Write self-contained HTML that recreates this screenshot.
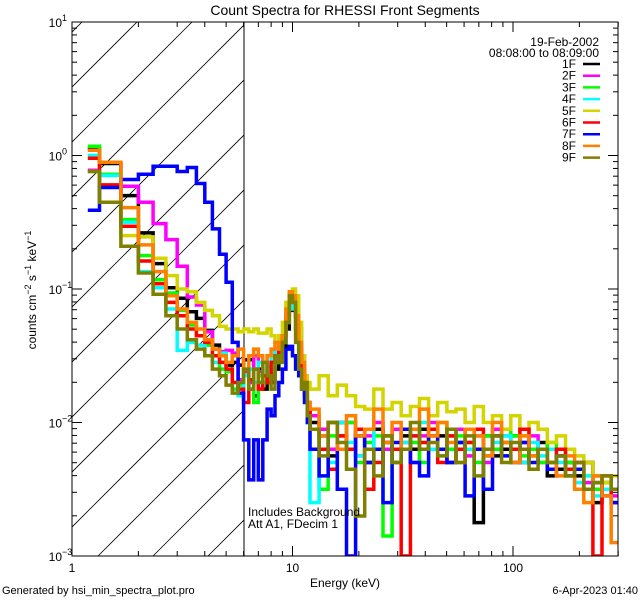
<!DOCTYPE html>
<html><head><meta charset="utf-8"><style>
body{margin:0;background:#fff;}
svg{display:block;font-family:"Liberation Sans",sans-serif;}
</style></head><body>
<svg id="chart" width="640" height="600" viewBox="0 0 640 600">
<rect width="640" height="600" fill="#fff"/>
<defs><clipPath id="pc"><rect x="72" y="22" width="546" height="534"/></clipPath>
<clipPath id="hc"><rect x="72" y="22" width="172" height="534"/></clipPath></defs>
<text x="345" y="15" text-anchor="middle" font-size="14">Count Spectra for RHESSI Front Segments</text>
<g id="hatch" clip-path="url(#hc)"></g>
<line x1="244" y1="22" x2="244" y2="556" stroke="#000" stroke-width="1"/>
<g id="series" clip-path="url(#pc)"></g>
<rect x="72" y="22" width="546" height="534" fill="none" stroke="#000" stroke-width="1"/>
<g id="axes"></g>
<text x="345" y="587" text-anchor="middle" font-size="12">Energy (keV)</text>
<text transform="translate(36,290) rotate(-90)" text-anchor="middle" font-size="12">counts cm<tspan dy="-5" font-size="9">−2</tspan><tspan dy="5"> s</tspan><tspan dy="-5" font-size="9">−1</tspan><tspan dy="5"> keV</tspan><tspan dy="-5" font-size="9">−1</tspan></text>
<text x="2" y="594" font-size="11">Generated by hsi_min_spectra_plot.pro</text>
<text x="638" y="594" text-anchor="end" font-size="11">6-Apr-2023 01:40</text>
<text x="248" y="516" font-size="12">Includes Background</text>
<text x="248" y="528" font-size="12">Att A1, FDecim 1</text>
<text x="599" y="46" text-anchor="end" font-size="12">19-Feb-2002</text>
<text x="599" y="57" text-anchor="end" font-size="12">08:08:00 to 08:09:00</text>
<g id="legend"></g>
</svg>
<script>
const seriesNames=["1F","2F","3F","4F","5F","6F","7F","8F","9F"];
const seriesColors=["#000000","#ff00ff","#00ff00","#00ffff","#d4d400","#ff0000","#0000ff","#ff8000","#808000"];
const s1F=[0.05,-0.06,-0.30,-0.58,-0.81,-0.99,-1.07,-1.17,-1.22,-1.31,-1.42,-1.50,-1.57,-1.55,-1.57,
-1.53,-1.53,-1.8,-1.6,-1.75,-1.65,-1.7,-1.6,-1.5,-1.45,-1.3,-1.16,-1.12,-1.2,-1.35,-1.55,-1.75,-1.9,
-2.0,-2.1,-2.25,-2.0,-2.2,-2.1,-2.3,-2.05,-2.15,-2.3,-2.1,-2.2,-2.05,-2.2,-2.1,-2.3,-2.15,-2.2,-2.75,-2.1,-2.25,-2.2,-2.1,-2.3,-2.2,-2.15,-2.4,-2.35,-2.3,-2.4,-2.3,-2.6,-2.45,-2.5];
const s2F=[-0.11,-0.23,-0.23,-0.35,-0.51,-0.63,-0.83,-1.06,-1.12,-1.32,-1.45,-1.47,-1.46,-1.48,-1.68,
-1.62,-1.7,-1.5,-1.62,-1.55,-1.7,-1.6,-1.45,-1.4,-1.35,-1.2,-1.08,-1.05,-1.15,-1.3,-1.5,-1.7,-1.85,
-1.95,-2.05,-2.2,-2.1,-2.0,-2.25,-2.1,-2.0,-2.2,-2.05,-2.15,-2.3,-2.1,-2.0,-2.2,-2.1,-2.05,-2.25,-2.1,-2.3,-2.05,-2.1,-2.2,-2.15,-2.1,-2.3,-2.2,-2.25,-2.35,-2.3,-2.45,-2.4,-2.5,-2.55];
const s3F=[0.07,-0.14,-0.48,-0.75,-0.93,-1.03,-1.16,-1.27,-1.35,-1.42,-1.5,-1.6,-1.62,-1.75,-1.72,
-1.6,-1.75,-1.85,-1.65,-1.7,-1.58,-1.62,-1.55,-1.5,-1.4,-1.25,-1.1,-1.05,-1.2,-1.4,-1.6,-1.8,-1.95,
-2.05,-2.5,-2.1,-2.2,-2.0,-2.3,-2.15,-2.1,-2.85,-2.2,-2.05,-2.15,-2.3,-2.1,-2.0,-2.2,-2.1,-2.15,-2.3,-2.1,-2.2,-2.05,-2.1,-2.25,-2.2,-2.3,-2.15,-2.2,-2.3,-2.35,-2.4,-2.5,-2.45,-2.6];
const s4F=[0.0,-0.15,-0.5,-0.87,-0.99,-1.15,-1.46,-1.4,-1.42,-1.5,-1.55,-1.48,-1.6,-1.7,-1.8,
-1.65,-1.6,-1.7,-1.55,-1.65,-1.6,-1.5,-1.45,-1.55,-1.4,-1.25,-1.15,-1.1,-1.15,-1.3,-1.55,-1.8,-2.0,
-2.6,-2.1,-2.3,-2.0,-2.15,-2.25,-2.05,-2.2,-2.1,-2.3,-2.15,-2.1,-2.0,-2.2,-2.25,-2.1,-2.15,-2.2,-2.1,-2.25,-2.15,-2.1,-2.2,-2.3,-2.15,-2.25,-2.2,-2.3,-2.35,-2.45,-2.4,-2.55,-2.5,-2.6];
const s5F=[-0.12,-0.35,-0.6,-0.61,-0.77,-0.9,-1.0,-1.02,-1.1,-1.16,-1.2,-1.28,-1.3,-1.3,-1.32,
-1.3,-1.32,-1.3,-1.33,-1.33,-1.3,-1.35,-1.4,-1.35,-1.25,-1.1,-1.02,-1.0,-1.05,-1.25,-1.5,-1.65,-1.7,
-1.75,-1.65,-1.8,-1.72,-1.8,-1.88,-1.9,-1.75,-1.9,-1.85,-1.95,-1.88,-1.82,-1.95,-1.85,-1.92,-1.9,-2.0,-1.88,-2.0,-1.95,-2.05,-1.95,-2.1,-2.0,-2.05,-2.15,-2.1,-2.2,-2.25,-2.3,-2.4,-2.45,-2.4];
const s6F=[-0.02,-0.22,-0.53,-0.79,-0.96,-1.1,-1.2,-1.3,-1.35,-1.4,-1.5,-1.55,-1.6,-1.7,-1.75,
-1.85,-1.68,-1.6,-1.75,-1.65,-1.7,-1.55,-1.5,-1.45,-1.35,-1.2,-1.07,-1.1,-1.3,-1.45,-1.6,-1.8,-1.9,
-2.05,-2.2,-2.35,-2.1,-2.2,-2.05,-2.5,-2.3,-2.1,-2.2,-3.0,-2.1,-2.15,-2.05,-2.3,-2.1,-2.2,-2.15,-2.05,-2.25,-2.1,-2.15,-2.2,-2.05,-2.25,-2.2,-2.3,-2.2,-2.35,-2.3,-2.5,-3.0,-2.4,-2.6];
const s7F=[-0.41,-0.24,-0.18,-0.14,-0.08,-0.08,-0.12,-0.09,-0.21,-0.35,-0.55,-0.74,-0.95,-1.4,-1.78,
-2.13,-2.43,-2.13,-2.43,-2.13,-1.9,-1.95,-1.8,-1.7,-1.6,-1.45,-1.43,-1.5,-1.6,-1.65,-1.75,-1.85,-2.0,
-2.2,-2.4,-2.0,-2.5,-3.0,-2.1,-2.3,-2.2,-2.6,-2.15,-2.05,-2.3,-2.4,-2.1,-2.2,-2.3,-2.15,-2.55,-2.2,-2.5,-2.1,-2.25,-2.3,-2.15,-2.3,-2.2,-2.35,-2.25,-2.4,-2.35,-2.5,-2.45,-2.55,-2.6];
const s8F=[0.04,-0.05,-0.39,-0.67,-0.87,-1.05,-1.15,-1.25,-1.3,-1.38,-1.45,-1.5,-1.55,-1.5,-1.45,
-1.6,-1.5,-1.45,-1.5,-1.55,-1.5,-1.45,-1.4,-1.45,-1.35,-1.15,-1.02,-1.05,-1.2,-1.4,-1.55,-1.7,-1.85,
-1.9,-2.1,-2.0,-2.2,-1.95,-2.1,-2.05,-1.9,-2.15,-2.0,-2.2,-2.05,-1.9,-2.1,-2.0,-2.15,-2.3,-2.05,-2.1,-2.25,-2.0,-2.15,-2.3,-2.1,-2.25,-2.2,-2.3,-2.4,-2.25,-2.5,-2.6,-2.4,-2.55,-2.9];
const s9F=[-0.12,-0.35,-0.68,-0.88,-1.04,-1.2,-1.3,-1.38,-1.45,-1.5,-1.6,-1.65,-1.72,-1.78,-1.7,
-1.6,-1.75,-1.6,-1.7,-1.55,-1.65,-1.75,-1.5,-1.55,-1.4,-1.25,-1.05,-1.1,-1.4,-1.6,-1.75,-1.7,-1.95,
-2.05,-2.25,-2.0,-2.15,-2.35,-2.7,-2.2,-2.4,-2.1,-2.3,-2.2,-2.0,-2.2,-2.15,-2.25,-2.05,-2.3,-2.1,-2.4,-2.2,-2.1,-2.3,-2.15,-2.2,-2.35,-2.2,-2.3,-2.25,-2.4,-2.3,-2.5,-2.45,-2.4,-2.5];
const seriesLogValues=[s1F,s2F,s3F,s4F,s5F,s6F,s7F,s8F,s9F];
const xTickLabels=["1","10","100"];
const yTickExps=["1","0","−1","−2","−3"];

const NS="http://www.w3.org/2000/svg";
const X0=72,X1=618,Y0=22,Y1=556,XDEC=220.5,LOGMIN=0,LOGMAX_Y=1,YDEC=133.5;
function xs(e){return X0+Math.log10(e)*XDEC;}
function ys(l){return Y0+(LOGMAX_Y-l)*YDEC;}
function mk(tag,attrs,parent){const el=document.createElementNS(NS,tag);for(const k in attrs)el.setAttribute(k,attrs[k]);parent.appendChild(el);return el;}
// energy bin edges
const edges=[1.18];
for(let k=4;k<=36;k++)edges.push(k/3);
for(let n=1;n<=34;n++)edges.push(12*Math.pow(1.1,n));

// hatch
const hatch=document.getElementById('hatch');
for(let c=159-55*3;c<244+556+60;c+=55){
  const ln=mk('line',{x1:c-Y1,y1:Y1,x2:c-Y0,y2:Y0,stroke:'#000','stroke-width':0.8},hatch);
  
  
}
// series
const sg=document.getElementById('series');
seriesLogValues.forEach((vals,i)=>{
  let d='M'+xs(edges[0]).toFixed(1)+','+ys(vals[0]).toFixed(1);
  for(let j=0;j<vals.length;j++){
    if(j>0)d+='V'+ys(vals[j]).toFixed(1);
    d+='H'+xs(edges[j+1]).toFixed(1);
  }
  const p=mk('path',{d:d,fill:'none',stroke:seriesColors[i],'stroke-width':3.5,'stroke-linejoin':'miter'},sg);
  
  
});
// axes
const ax=document.getElementById('axes');


for(let dec=0;dec<3;dec++){
  for(let m=1;m<=9;m++){
    const e=m*Math.pow(10,dec);const x=xs(e);if(x>X1+0.5)continue;
    const len=m===1?10:5;
    const t1=mk('line',{x1:x,y1:Y1,x2:x,y2:Y1-len,stroke:'#000'},ax);
    
    
    const t2=mk('line',{x1:x,y1:Y0,x2:x,y2:Y0+len,stroke:'#000'},ax);
    
    
  }
}
xTickLabels.forEach((lab,i)=>{
  const t=mk('text',{x:xs(Math.pow(10,i)),y:572,'text-anchor':'middle','font-size':12},ax);
  t.textContent=lab;
  
  
});
for(let l=-3;l<1;l++){
  for(let m=1;m<=9;m++){
    const y=ys(l+Math.log10(m));const len=m===1?10:5;
    const a=mk('line',{x1:X0,y1:y,x2:X0+len,y2:y,stroke:'#000'},ax);
    
    
    const b=mk('line',{x1:X1,y1:y,x2:X1-len,y2:y,stroke:'#000'},ax);
    
    
  }
}
yTickExps.forEach((ex,i)=>{
  const y=ys(1-i);
  const t=mk('text',{x:62,y:y+5,'text-anchor':'end','font-size':12},ax);
  t.textContent='10';
  
  
  const s=mk('text',{x:62,y:y-1,'font-size':9},ax);
  s.textContent=ex;
  
  
});
// legend
const lg=document.getElementById('legend');
seriesNames.forEach((n,i)=>{
  const y=64+i*11.7;
  const t=mk('text',{x:576,y:y+4,'text-anchor':'end','font-size':12},lg);
  t.textContent=n;
  
  
  const l=mk('line',{x1:583,y1:y,x2:600,y2:y,stroke:seriesColors[i],'stroke-width':2.5},lg);
  
  
});
</script>
</body></html>
